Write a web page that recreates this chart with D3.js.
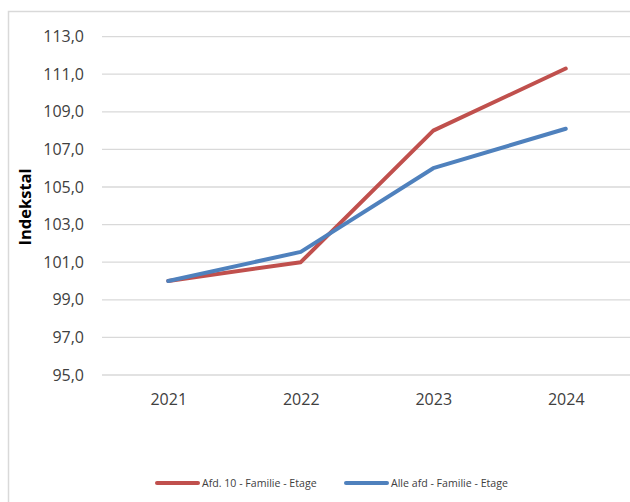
<!DOCTYPE html>
<html>
<head>
<meta charset="utf-8">
<script src="https://cdn.jsdelivr.net/npm/d3@7"></script>
<style>
  html, body { margin: 0; padding: 0; background: #fff; }
  svg { display: block; }
</style>
</head>
<body>
<svg id="chart" width="630" height="502"></svg>
<script>
const categories = ["2021", "2022", "2023", "2024"];
const seriesNames = ["Afd. 10 - Familie - Etage", "Alle afd - Familie - Etage"];
const afd10 = [100.0, 101.0, 108.0, 111.3];
const alleAfd = [100.0, 101.55, 106.0, 108.1];
const yTicks = [95, 97, 99, 101, 103, 105, 107, 109, 111, 113];
const colors = ["#C0504D", "#4F81BD"];
const yTitle = "Indekstal";

(function () {
const svg = d3.select("#chart");
const font = "'Open Sans', 'Noto Sans', sans-serif";

// chart border
svg.append("rect").attr("x", 8.5).attr("y", 11.5).attr("width", 640).attr("height", 520)
  .attr("fill", "none").attr("stroke", "#D9D9D9").attr("stroke-width", 1.5);

const pLeft = 102, pRight = 632, pTop = 36.6, pBottom = 375;
const x = d3.scalePoint().domain(categories).range([pLeft, pRight]).padding(0.5);
const y = d3.scaleLinear().domain([95, 113]).range([pBottom, pTop]);

// gridlines
svg.append("g").selectAll("line").data(yTicks).join("line")
  .attr("x1", pLeft).attr("x2", pRight)
  .attr("y1", d => y(d)).attr("y2", d => y(d))
  .attr("stroke", "#D9D9D9").attr("stroke-width", 1.3);

// y axis labels
const yAxis = d3.axisLeft(y).tickValues(yTicks).tickSize(0).tickPadding(0)
  .tickFormat(d => d3.format(".1f")(d).replace(".", ","));
const gy = svg.append("g").attr("transform", `translate(84,0)`).call(yAxis);
gy.select(".domain").remove();
gy.selectAll("text").attr("font-family", font).attr("font-size", 16).attr("fill", "#404040");

// x axis labels
const xAxis = d3.axisBottom(x).tickSize(0).tickPadding(0);
const gx = svg.append("g").attr("transform", `translate(0,${pBottom + 19})`).call(xAxis);
gx.select(".domain").remove();
gx.selectAll("text").attr("font-family", font).attr("font-size", 16).attr("fill", "#404040");

// y title
svg.append("text")
  .attr("transform", `translate(31,207) rotate(-90)`)
  .attr("text-anchor", "middle")
  .attr("font-family", font).attr("font-size", 16.5).attr("font-weight", "bold")
  .attr("fill", "#000").text(yTitle);

// lines
const line = d3.line().x((d, i) => x(categories[i])).y(d => y(d));
[afd10, alleAfd].forEach((s, i) => {
  svg.append("path").datum(s).attr("d", line)
    .attr("fill", "none").attr("stroke", colors[i]).attr("stroke-width", 4)
    .attr("stroke-linejoin", "round").attr("stroke-linecap", "round");
});

// legend
const legendItems = [{x: 157, name: seriesNames[0], c: colors[0]}, {x: 346, name: seriesNames[1], c: colors[1]}];
const lg = svg.append("g");
legendItems.forEach(it => {
  lg.append("line").attr("x1", it.x).attr("x2", it.x + 41).attr("y1", 483).attr("y2", 483)
    .attr("stroke", it.c).attr("stroke-width", 4).attr("stroke-linecap", "round");
  lg.append("text").attr("x", it.x + 45).attr("y", 487)
    .attr("font-family", font).attr("font-size", 10.6).attr("fill", "#404040").text(it.name);
});
})();
</script>
</body>
</html>
